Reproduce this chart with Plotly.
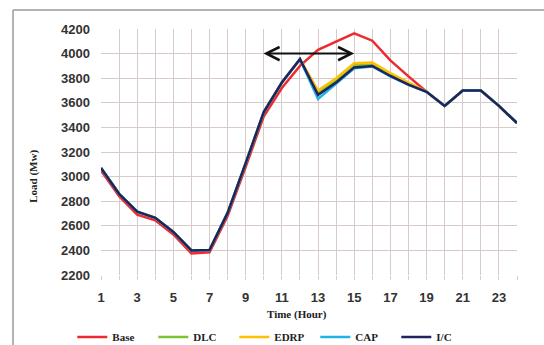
import plotly.graph_objects as go

# Hourly load (MW) for the base case and four demand-response programs
hours = list(range(1, 25))
base = [3050, 2840, 2690, 2645, 2530, 2375, 2385, 2680, 3080, 3490, 3720, 3900,
        4030, 4100, 4165, 4105, 3945, 3815, 3690, 3575, 3700, 3700, 3575, 3435]
dlc = [3070, 2860, 2715, 2665, 2550, 2400, 2403, 2705, 3110, 3525, 3765, 3955,
       3680, 3785, 3905, 3915, 3830, 3755, 3690, 3575, 3700, 3700, 3575, 3435]
edrp = [3070, 2860, 2715, 2665, 2550, 2400, 2403, 2705, 3110, 3525, 3765, 3955,
        3700, 3800, 3922, 3927, 3842, 3763, 3690, 3575, 3700, 3700, 3575, 3435]
cap = [3070, 2860, 2715, 2665, 2550, 2400, 2403, 2705, 3110, 3525, 3765, 3955,
       3632, 3760, 3880, 3895, 3815, 3745, 3690, 3575, 3700, 3700, 3575, 3435]
ic = [3070, 2860, 2715, 2665, 2550, 2400, 2403, 2705, 3110, 3525, 3765, 3955,
      3665, 3765, 3888, 3899, 3818, 3747, 3690, 3575, 3700, 3700, 3575, 3435]

series = [
    ("Base", base, "#ec2a2f"),
    ("DLC", dlc, "#7cc431"),
    ("EDRP", edrp, "#ffc000"),
    ("CAP", cap, "#1fb3e6"),
    ("I/C", ic, "#1e2461"),
]

x_tick_labels = [str(h) if h % 2 == 1 else "" for h in hours]
y_ticks = list(range(2200, 4201, 200))

fig = go.Figure()
for name, vals, color in series:
    fig.add_trace(go.Scatter(
        x=hours, y=vals, name=name, mode="lines",
        line=dict(color=color, width=2.5),
    ))

grid = "#d8caca"
tick_font = dict(family="Liberation Sans", size=13, color="#333", weight="bold")
fig.update_xaxes(
    range=[1, 24], tickmode="array", tickvals=hours, ticktext=x_tick_labels,
    showgrid=True, gridcolor=grid, gridwidth=1, zeroline=False,
    showline=False, ticks="outside", ticklen=4, tickcolor=grid,
    ticklabelstandoff=6, tickfont=tick_font,
)
fig.update_yaxes(
    range=[2200, 4200], tickvals=y_ticks,
    showgrid=True, gridcolor=grid, gridwidth=1, zeroline=False,
    showline=False, ticks="", ticklabelstandoff=10, tickfont=tick_font,
)

serif = dict(family="Liberation Serif", size=11, color="#222", weight="bold")
fig.add_annotation(
    x=-0.163, y=0.40, xref="paper", yref="paper", text="Load (Mw)",
    xanchor="center", yanchor="middle",
    showarrow=False, textangle=-90, font=serif,
)
fig.add_annotation(
    x=0.472, y=-0.159, xref="paper", yref="paper", text="Time (Hour)",
    xanchor="center", yanchor="middle",
    showarrow=False, font=serif,
)
# double-headed arrow marking the peak window
fig.add_annotation(
    x=15, y=4000, ax=9.9, ay=4000, xref="x", yref="y", axref="x", ayref="y",
    text="", showarrow=True, arrowhead=5, startarrowhead=5, arrowside="end+start",
    arrowwidth=2, arrowsize=1.3, startarrowsize=1.3, arrowcolor="#111",
)

# outer frame of the chart
fig.add_shape(type="line", xref="paper", yref="paper",
              x0=-0.2115, x1=1.2, y0=1.077, y1=1.077,
              line=dict(color="#9a9a9a", width=1.5))
fig.add_shape(type="line", xref="paper", yref="paper",
              x0=-0.2115, x1=-0.2115, y0=1.077, y1=-0.4,
              line=dict(color="#9a9a9a", width=1.5))

fig.update_layout(
    width=544, height=345,
    margin=dict(l=101, r=27, t=29, b=70, autoexpand=False),
    paper_bgcolor="white", plot_bgcolor="white",
    showlegend=True,
    legend=dict(
        orientation="h", x=-0.069, xanchor="left", y=-0.252, yanchor="middle",
        font=serif, entrywidth=36, itemwidth=30,
        bgcolor="rgba(0,0,0,0)",
    ),
)

fig.write_html("out.html")
